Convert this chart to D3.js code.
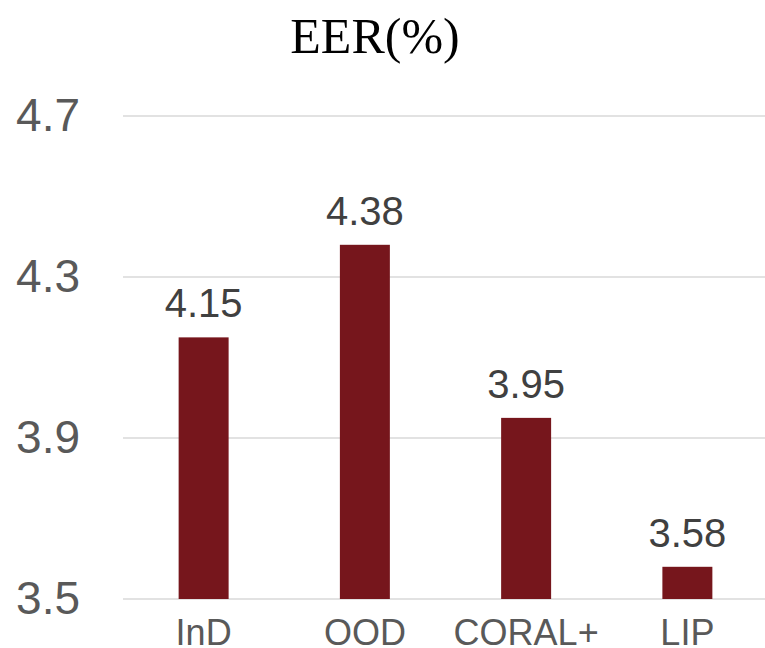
<!DOCTYPE html>
<html>
<head>
<meta charset="utf-8">
<script src="https://cdn.jsdelivr.net/npm/d3@7"></script>
<style>
  html, body { margin: 0; padding: 0; background: #fff; }
  svg { display: block; }
</style>
</head>
<body>
<svg id="chart" width="765" height="648"></svg>
<script>
// EER (%) per method
const categories = ["InD", "OOD", "CORAL+", "LIP"];
const eerValues = [4.15, 4.38, 3.95, 3.58];
const yTicks = [3.5, 3.9, 4.3, 4.7];
const chartTitle = "EER(%)";

const svg = d3.select("#chart");
const W = 765;

const x = d3.scaleBand()
  .domain(categories)
  .range([123, 768])
  .paddingInner(0.69)
  .paddingOuter(0.345);

const y = d3.scaleLinear()
  .domain([3.5, 4.7])
  .range([599, 116]);

// title
svg.append("text")
  .attr("x", 375)
  .attr("y", 53)
  .attr("text-anchor", "middle")
  .attr("font-family", "'Liberation Serif', 'DejaVu Serif', serif")
  .attr("font-size", 50)
  .attr("fill", "#000")
  .text(chartTitle);

// gridlines
svg.append("g")
  .selectAll("line")
  .data(yTicks)
  .join("line")
  .attr("x1", 123)
  .attr("x2", W)
  .attr("y1", d => y(d))
  .attr("y2", d => y(d))
  .attr("stroke", "#d9d9d9")
  .attr("stroke-width", 1.5);

// y axis labels
const yAxis = d3.axisLeft(y).tickValues(yTicks).tickFormat(d3.format(".1f")).tickSize(0).tickPadding(0);
const yg = svg.append("g").attr("transform", "translate(80,0)").call(yAxis);
yg.select(".domain").remove();
yg.selectAll("text")
  .attr("font-family", "'Liberation Sans', Arial, sans-serif")
  .attr("font-size", 46)
  .attr("fill", "#595959")
  .attr("dy", "0.32em");

// bars
svg.append("g")
  .selectAll("rect")
  .data(eerValues)
  .join("rect")
  .attr("x", (d, i) => x(categories[i]))
  .attr("width", x.bandwidth())
  .attr("y", d => y(d))
  .attr("height", d => y(3.5) - y(d))
  .attr("fill", "#76161c");

// value labels
svg.append("g")
  .selectAll("text")
  .data(eerValues)
  .join("text")
  .attr("x", (d, i) => x(categories[i]) + x.bandwidth() / 2)
  .attr("y", d => y(d) - 20)
  .attr("text-anchor", "middle")
  .attr("font-family", "'Liberation Sans', Arial, sans-serif")
  .attr("font-size", 40)
  .attr("fill", "#404040")
  .text(d => d.toFixed(2));

// category labels
const xAxis = d3.axisBottom(x).tickSize(0).tickPadding(0);
const xg = svg.append("g").attr("transform", "translate(0,645)").call(xAxis);
xg.select(".domain").remove();
xg.selectAll("text")
  .attr("font-family", "'Liberation Sans', Arial, sans-serif")
  .attr("font-size", 36)
  .attr("fill", "#595959")
  .attr("dy", 0)
  .attr("y", 0);
</script>
</body>
</html>
